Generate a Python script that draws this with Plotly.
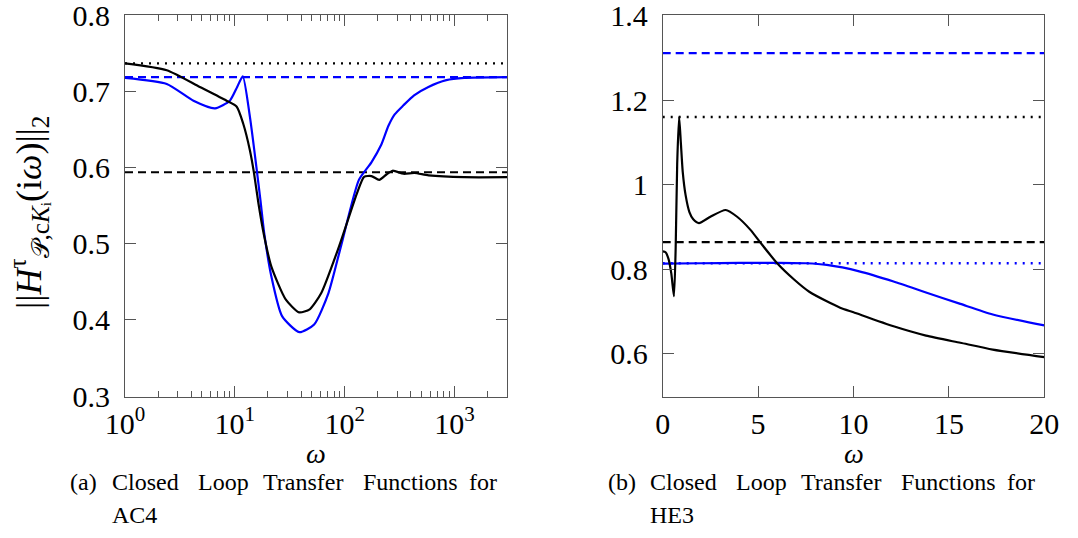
import numpy as np
import plotly.graph_objects as go

# ---------------- data: panel (a) AC4 ----------------
ac4_w_black = [1, 2.4, 4.8, 8.4, 10.4, 11.9, 13.7, 14.9, 16.4, 18.5, 21.5, 29, 38.5, 48, 61, 89, 129, 150, 175, 206, 240, 273, 343, 430, 580, 1220, 3000]
ac4_v_black = [0.737, 0.728, 0.706, 0.688, 0.680, 0.658, 0.623, 0.594, 0.553, 0.510, 0.470, 0.427, 0.410, 0.414, 0.435, 0.497, 0.566, 0.588, 0.589, 0.584, 0.591, 0.596, 0.592, 0.593, 0.590, 0.5875, 0.5875]
ac4_w_blue = [1, 2.4, 4.2, 6.6, 9.0, 10.5, 11.8, 13.7, 15.7, 17.1, 18.5, 21.5, 26.9, 38.6, 52.7, 71, 92.5, 134.6, 175, 215, 250, 285, 343, 428, 578, 841, 1220, 3000]
ac4_v_blue = [0.718, 0.710, 0.688, 0.678, 0.688, 0.706, 0.720, 0.667, 0.601, 0.557, 0.514, 0.457, 0.405, 0.384, 0.394, 0.435, 0.497, 0.584, 0.607, 0.630, 0.655, 0.670, 0.682, 0.695, 0.706, 0.715, 0.718, 0.719]
ac4_ref_black_dotted = 0.737
ac4_ref_blue_dashed = 0.719
ac4_ref_black_dashed = 0.594
ac4_wrange = [1, 3000]

# ---------------- data: panel (b) HE3 ----------------
he3_w_black = [0, 0.15, 0.3, 0.45, 0.59, 0.68, 0.76, 0.86, 0.95, 1.05, 1.2, 1.4, 1.6, 1.9, 2.5, 3.3, 3.9, 4.6, 5.1, 6.0, 6.9, 7.7, 8.6, 9.3, 10, 12.1, 13.8, 15.6, 17.3, 20]
he3_v_black = [0.842, 0.840, 0.825, 0.790, 0.736, 0.85, 1.05, 1.160, 1.10, 1.03, 0.975, 0.935, 0.918, 0.909, 0.924, 0.940, 0.924, 0.893, 0.864, 0.814, 0.775, 0.746, 0.724, 0.709, 0.698, 0.665, 0.643, 0.626, 0.610, 0.592]
he3_w_blue = [0, 2, 4, 6, 7.5, 8.6, 10.3, 12.1, 13.8, 15.6, 17.3, 20]
he3_v_blue = [0.813, 0.814, 0.815, 0.815, 0.814, 0.810, 0.795, 0.771, 0.745, 0.718, 0.693, 0.667]
he3_ref_blue_dashed = 1.311
he3_ref_black_dotted = 1.160
he3_ref_black_dashed = 0.864
he3_ref_blue_dotted = 0.814
he3_wrange = [0, 20]

# ---------------- ticks ----------------
ac4_xtickvals = [1, 10, 100, 1000]
ac4_xticktext = ["10<sup>0</sup>", "10<sup>1</sup>", "10<sup>2</sup>", "10<sup>3</sup>"]
ac4_ytickvals = [0.3, 0.4, 0.5, 0.6, 0.7, 0.8]
ac4_yticktext = ["0.3", "0.4", "0.5", "0.6", "0.7", "0.8"]
he3_xtickvals = [0, 5, 10, 15, 20]
he3_xticktext = ["0", "5", "10", "15", "20"]
he3_ytickvals = [0.6, 0.8, 1.0, 1.2, 1.4]
he3_yticktext = ["0.6", "0.8", "1", "1.2", "1.4"]

W, H = 1078, 538
FONT = "Liberation Serif, Times New Roman, DejaVu Serif, serif"
BLUE = "#0000ff"
AX = "#555555"

fig = go.Figure()

def line(x, y, color, dash="solid", width=2.2, xa="x", ya="y", shape="spline"):
    fig.add_trace(go.Scatter(x=x, y=y, mode="lines", xaxis=xa, yaxis=ya,
                             line=dict(color=color, dash=dash, width=width, shape=shape, smoothing=0.6),
                             showlegend=False, hoverinfo="skip"))

DASH = "8px,5px"
DOT = "2px,6px"

# panel a
line(ac4_wrange, [ac4_ref_black_dotted] * 2, "black", DOT, 2.4, shape="linear")
line(ac4_wrange, [ac4_ref_blue_dashed] * 2, BLUE, DASH, 2.2, shape="linear")
line(ac4_wrange, [ac4_ref_black_dashed] * 2, "black", DASH, 2.2, shape="linear")
line(ac4_w_blue, ac4_v_blue, BLUE)
line(ac4_w_black, ac4_v_black, "black")

# panel b
line(he3_wrange, [he3_ref_blue_dashed] * 2, BLUE, DASH, 2.2, "x2", "y2", "linear")
line(he3_wrange, [he3_ref_black_dotted] * 2, "black", DOT, 2.4, "x2", "y2", "linear")
line(he3_wrange, [he3_ref_black_dashed] * 2, "black", DASH, 2.2, "x2", "y2", "linear")
line(he3_wrange, [he3_ref_blue_dotted] * 2, BLUE, DOT, 2.4, "x2", "y2", "linear")
line(he3_w_blue, he3_v_blue, BLUE, xa="x2", ya="y2")
line(he3_w_black, he3_v_black, "black", xa="x2", ya="y2")

def px2x(p):
    return p / W

def px2y(p):
    return 1 - p / H

tickfont = dict(family=FONT, size=30, color="black")
common = dict(showline=True, linecolor=AX, linewidth=1, mirror="allticks", ticks="inside",
              ticklen=11, tickcolor=AX, tickwidth=1, showgrid=False, zeroline=False,
              tickfont=tickfont, fixedrange=True, automargin=False, ticklabeloverflow="allow")

minor_vals = [m * 10 ** k for k in range(0, 4) for m in range(2, 10) if m * 10 ** k <= 3000]

eps_a = 0.0005
eps_b = 0.001
ydom = [px2y(396.5), px2y(15)]
fig.update_layout(
    template="none",
    width=W, height=H, margin=dict(l=0, r=0, t=0, b=0, autoexpand=False),
    paper_bgcolor="white", plot_bgcolor="white",
    font=dict(family=FONT, size=16, color="black"),
    xaxis=dict(type="log", range=[0, np.log10(3000)], domain=[px2x(125), px2x(507)], anchor="y",
               tickvals=ac4_xtickvals, ticktext=ac4_xticktext, ticklabelstandoff=0,
               minor=dict(ticks="inside", ticklen=6, tickcolor=AX, tickvals=minor_vals, showgrid=False),
               **common),
    yaxis=dict(range=[0.3 - eps_a, 0.8 + eps_a], domain=ydom, anchor="x", ticklabelstandoff=8,
               tickvals=ac4_ytickvals, ticktext=ac4_yticktext, **common),
    xaxis2=dict(range=[0, 20], domain=[px2x(662.7), px2x(1044.3)], anchor="y2", ticklabelstandoff=0,
                tickvals=he3_xtickvals, ticktext=he3_xticktext, **common),
    yaxis2=dict(range=[0.5 - eps_b, 1.4 + eps_b], domain=ydom, anchor="x2", ticklabelstandoff=8,
                tickvals=he3_ytickvals, ticktext=he3_yticktext, **common),
)

def ann(text, x, y, size, xanchor="center", angle=0, yanchor="middle"):
    fig.add_annotation(text=text, x=px2x(x), y=px2y(y), xref="paper", yref="paper",
                       showarrow=False, xanchor=xanchor, yanchor=yanchor, textangle=angle,
                       font=dict(family=FONT, size=size, color="black"))

# axis titles
ann("<i>ω</i>", 316, 453, 28)
ann("<i>ω</i>", 853.5, 453, 28)
ann("||<i>H</i><sup>τ</sup><sub>𝒫,c<i>K</i>ᵢ</sub>(i<i>ω</i>)||<sub>2</sub>", 29, 213, 36, angle=-90)

# captions (justified words)
cap_words = ["Closed", "Loop", "Transfer", "Functions", "for"]
cap_word_x = [110, 196, 261, 361, 467]
for off, lab, name in [(0, "(a)", "AC4"), (537.7, "(b)", "HE3")]:
    ann(lab, 68 + off, 482, 24, xanchor="left")
    for w, xw in zip(cap_words, cap_word_x):
        ann(w, xw + off, 482, 24, xanchor="left")
    ann(name, 110 + off, 515, 24, xanchor="left")

fig.write_html("out.html", config={"displayModeBar": False},
               post_script="document.body.style.margin='0px';document.body.style.overflow='hidden';")
